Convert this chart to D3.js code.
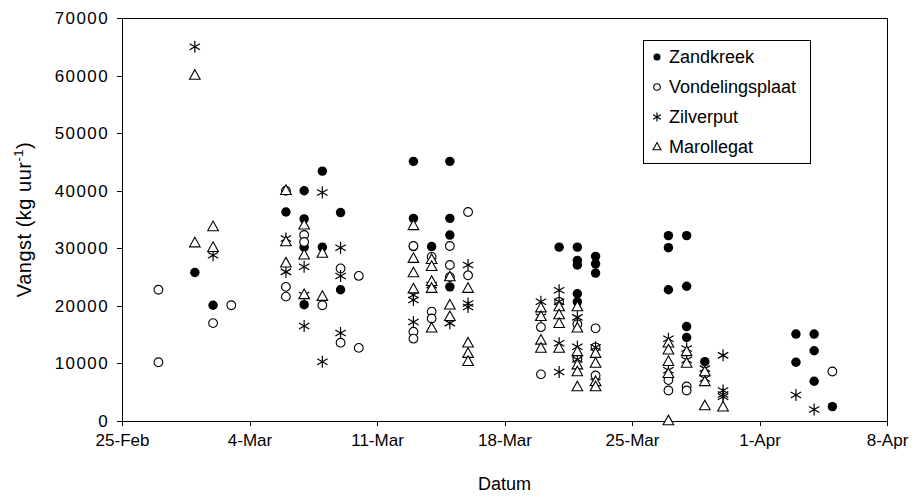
<!DOCTYPE html>
<html lang="nl">
<head>
<meta charset="UTF-8">
<title>Vangst per datum</title>
<style>
  body { margin: 0; background: #fff; }
  svg { font-family: "Liberation Sans", Arial, sans-serif; }
  .axis path, .axis line { stroke: #000; shape-rendering: crispEdges; }
  .axis text { font-size: 17px; fill: #000; }
  .yaxis text { letter-spacing: 1.4px; }
</style>
</head>
<body>
<div id="chart"></div>
<script src="https://d3js.org/d3.v7.min.js"></script>
<script>
// measurements, [date, kg per hour]
const zandkreek = [
  ["03-01", 25800], ["03-02", 20100],
  ["03-06", 36300],
  ["03-07", 40000], ["03-07", 35100], ["03-07", 30200], ["03-07", 20200],
  ["03-08", 43400], ["03-08", 30200],
  ["03-09", 36200], ["03-09", 22800],
  ["03-13", 45100], ["03-13", 35200], ["03-13", 30300],
  ["03-14", 30300],
  ["03-15", 45100], ["03-15", 35200], ["03-15", 32300], ["03-15", 23300],
  ["03-21", 30200],
  ["03-22", 30200], ["03-22", 27900], ["03-22", 27100], ["03-22", 22100], ["03-22", 20700],
  ["03-23", 28600], ["03-23", 27300], ["03-23", 25700],
  ["03-27", 32200], ["03-27", 30100], ["03-27", 22800],
  ["03-28", 32200], ["03-28", 23400], ["03-28", 16400], ["03-28", 14500],
  ["03-29", 10300],
  ["04-03", 15100], ["04-03", 10200],
  ["04-04", 15100], ["04-04", 12200], ["04-04", 6900],
  ["04-05", 2500]
];
const vondelingsplaat = [
  ["02-27", 22800], ["02-27", 10200],
  ["03-02", 17000], ["03-03", 20100],
  ["03-06", 40000], ["03-06", 23300], ["03-06", 21600],
  ["03-07", 32300], ["03-07", 31100],
  ["03-08", 20100],
  ["03-09", 26500], ["03-09", 13600],
  ["03-10", 25200], ["03-10", 12700],
  ["03-13", 30400], ["03-13", 15500], ["03-13", 14300],
  ["03-14", 28500], ["03-14", 19000], ["03-14", 17800],
  ["03-15", 30400], ["03-15", 27100], ["03-15", 25000],
  ["03-16", 36300], ["03-16", 25300],
  ["03-20", 16300], ["03-20", 8100],
  ["03-21", 20700],
  ["03-22", 16800], ["03-22", 10800],
  ["03-23", 16100], ["03-23", 12800], ["03-23", 7900],
  ["03-27", 7100], ["03-27", 5300],
  ["03-28", 6000], ["03-28", 5300],
  ["04-05", 8600]
];
const zilverput = [
  ["03-01", 65000], ["03-02", 28800],
  ["03-06", 31700], ["03-06", 25900],
  ["03-07", 26800], ["03-07", 21900], ["03-07", 16500],
  ["03-08", 39700], ["03-08", 10300],
  ["03-09", 30100], ["03-09", 25200], ["03-09", 15300],
  ["03-13", 21900], ["03-13", 21000], ["03-13", 17200],
  ["03-14", 23600],
  ["03-15", 17000],
  ["03-16", 27100], ["03-16", 20400], ["03-16", 19800],
  ["03-20", 20700], ["03-20", 18100],
  ["03-21", 22700], ["03-21", 20700], ["03-21", 13500], ["03-21", 8500],
  ["03-22", 18000], ["03-22", 12900], ["03-22", 10700],
  ["03-23", 12800], ["03-23", 6800],
  ["03-27", 14300], ["03-27", 8800],
  ["03-28", 12600], ["03-28", 10600],
  ["03-29", 9100], ["03-29", 7400],
  ["03-30", 11400], ["03-30", 5300], ["03-30", 4600], ["03-30", 4200],
  ["04-03", 4500], ["04-04", 2000]
];
const marollegat = [
  ["03-01", 60000], ["03-01", 30900],
  ["03-02", 33700], ["03-02", 30100],
  ["03-06", 40000], ["03-06", 31100], ["03-06", 27400],
  ["03-07", 34000], ["03-07", 28800], ["03-07", 21900],
  ["03-08", 29100], ["03-08", 21600],
  ["03-13", 33900], ["03-13", 28200], ["03-13", 25700], ["03-13", 22900],
  ["03-14", 28000], ["03-14", 26800], ["03-14", 24200], ["03-14", 23000], ["03-14", 16100],
  ["03-15", 25000], ["03-15", 20100], ["03-15", 18100],
  ["03-16", 23000], ["03-16", 13500], ["03-16", 11700], ["03-16", 10300],
  ["03-20", 19600], ["03-20", 18100], ["03-20", 14000], ["03-20", 12600],
  ["03-21", 19800], ["03-21", 18400], ["03-21", 16900], ["03-21", 12600],
  ["03-22", 19800], ["03-22", 16100], ["03-22", 12000], ["03-22", 9700], ["03-22", 8500], ["03-22", 5900],
  ["03-23", 11700], ["03-23", 10000], ["03-23", 6800], ["03-23", 5900],
  ["03-27", 13500], ["03-27", 12300], ["03-27", 10300], ["03-27", 8200], ["03-27", 0],
  ["03-28", 12000], ["03-28", 10000],
  ["03-29", 8500], ["03-29", 6800], ["03-29", 2600],
  ["03-30", 2400]
];

const seriesNames = ["Zandkreek", "Vondelingsplaat", "Zilverput", "Marollegat"];
const seriesData = [zandkreek, vondelingsplaat, zilverput, marollegat];
const xTicks = ["02-25", "03-04", "03-11", "03-18", "03-25", "04-01", "04-08"];
const yTicks = [0, 10000, 20000, 30000, 40000, 50000, 60000, 70000];

const parseDay = d3.timeParse("%Y-%m-%d");
const day = s => parseDay("2001-" + s);

const W = 912, H = 497;
const margin = { top: 18, right: 25, bottom: 76, left: 122 };
const width = W - margin.left - margin.right;
const height = H - margin.top - margin.bottom;

const svg = d3.select("#chart").append("svg")
  .attr("width", W)
  .attr("height", H);

const g = svg.append("g")
  .attr("transform", `translate(${margin.left},${margin.top})`);

const x = d3.scaleTime()
  .domain([day(xTicks[0]), day(xTicks[xTicks.length - 1])])
  .range([0, width]);

const y = d3.scaleLinear()
  .domain([0, 70000])
  .range([height, 0]);

// frame
g.append("rect")
  .attr("width", width)
  .attr("height", height)
  .attr("fill", "none")
  .attr("stroke", "#000")
  .attr("shape-rendering", "crispEdges");

g.append("g")
  .attr("class", "axis")
  .attr("transform", `translate(0,${height})`)
  .call(d3.axisBottom(x)
    .tickValues(xTicks.map(day))
    .tickFormat(d3.timeFormat("%-d-%b"))
    .tickSize(5)
    .tickSizeOuter(0)
    .tickPadding(8));

g.append("g")
  .attr("class", "axis yaxis")
  .call(d3.axisLeft(y)
    .tickValues(yTicks)
    .tickFormat(d3.format("d"))
    .tickSize(5)
    .tickSizeOuter(0)
    .tickPadding(8));

g.selectAll(".axis .domain").remove();

// markers
function drawMarker(sel, k, scale) {
  const s = scale || 1;
  if (k === 0) {
    sel.append("path").attr("d", d3.symbol().type(d3.symbolCircle).size(70 * s * s))
      .attr("fill", "#000");
  } else if (k === 1) {
    sel.append("path").attr("d", d3.symbol().type(d3.symbolCircle).size(60 * s * s))
      .attr("fill", "#fff").attr("stroke", "#000").attr("stroke-width", 1.1);
  } else if (k === 2) {
    const r = 6 * s;
    const a = r * Math.cos(Math.PI / 6), b = r * Math.sin(Math.PI / 6);
    sel.append("path")
      .attr("d", `M${-a},${-b}L${a},${b}M${-a},${b}L${a},${-b}M0,${-r}L0,${r}`)
      .attr("stroke", "#000").attr("stroke-width", 1.2).attr("fill", "none");
  } else {
    const r = 5.6 * s;
    sel.append("path")
      .attr("d", `M0,${-r}L${r * 0.95},${r * 0.72}L${-r * 0.95},${r * 0.72}Z`)
      .attr("fill", "#fff").attr("stroke", "#000").attr("stroke-width", 1.1)
      .attr("transform", `translate(0,${-r * 0.05})`);
  }
}

seriesData.forEach((data, k) => {
  g.append("g")
    .selectAll("g")
    .data(data)
    .join("g")
    .attr("transform", d => `translate(${x(day(d[0]))},${y(d[1])})`)
    .each(function () { drawMarker(d3.select(this), k); });
});

// legend
const legend = g.append("g")
  .attr("transform", `translate(${643 - margin.left},${40 - margin.top})`);

legend.append("rect")
  .attr("width", 167)
  .attr("height", 123)
  .attr("fill", "#fff")
  .attr("stroke", "#000")
  .attr("shape-rendering", "crispEdges");

seriesNames.forEach((name, i) => {
  const row = legend.append("g")
    .attr("transform", `translate(14,${17 + i * 30})`);
  drawMarker(row.append("g"), i, 0.75);
  row.append("text")
    .attr("x", 12)
    .attr("dy", "0.35em")
    .attr("font-size", 18)
    .text(name);
});

// axis titles
svg.append("text")
  .attr("x", margin.left + width / 2)
  .attr("y", 490)
  .attr("text-anchor", "middle")
  .attr("font-size", 18)
  .text("Datum");

const yt = svg.append("text")
  .attr("transform", `translate(31,${margin.top + height / 2}) rotate(-90)`)
  .attr("text-anchor", "middle")
  .attr("font-size", 20)
  .attr("letter-spacing", 0.5);
yt.append("tspan").text("Vangst (kg uur");
yt.append("tspan").attr("dy", -8).attr("font-size", 13).text("-1");
yt.append("tspan").attr("dy", 8).text(")");
</script>
</body>
</html>
